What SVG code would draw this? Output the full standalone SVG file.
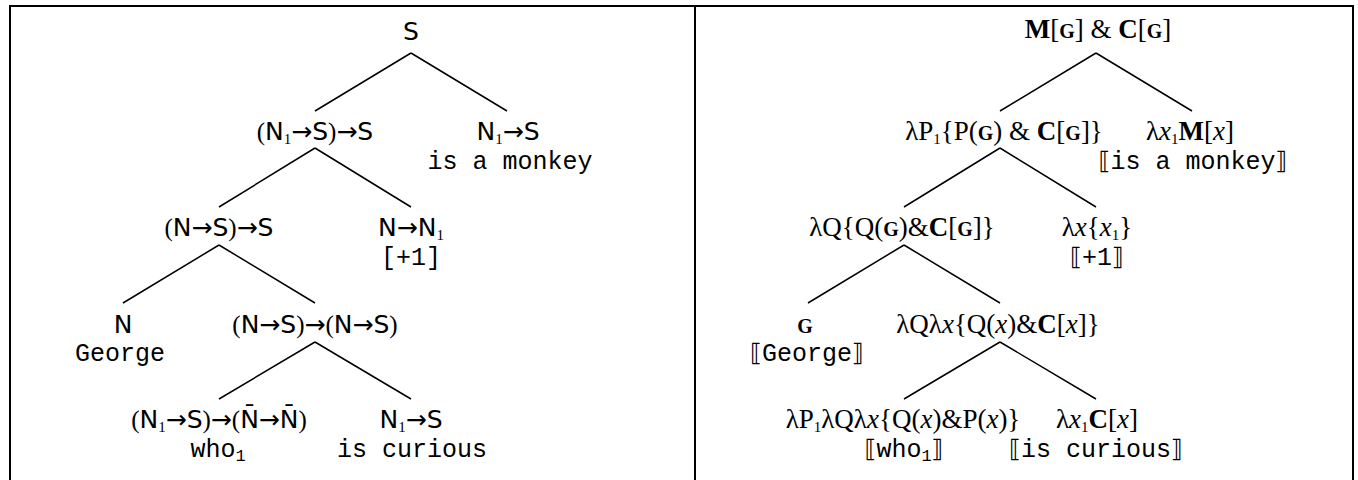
<svg xmlns="http://www.w3.org/2000/svg" width="1358" height="480" viewBox="0 0 1358 480">
<style>
.sans{font-family:"DejaVu Sans",sans-serif;font-size:25px;fill:#000}
.ser{font-family:"Liberation Serif",serif}
.mono{font-family:"Liberation Mono",monospace;font-size:25px;fill:#000}
.rt{font-family:"Liberation Serif",serif;font-size:27px;fill:#000}
.b{font-weight:bold}
.i{font-style:italic}
.sc{font-size:20px;font-weight:bold}
.sub{font-size:15px}
.msub{font-size:17px}
.wb{font-family:"DejaVu Sans",sans-serif;font-size:24px}
.edge{stroke:#000;stroke-width:1.5;fill:none}
.frame{stroke:#000;stroke-width:2;fill:none}
</style>
<rect width="1358" height="480" fill="#fff"/>
<path class="frame" d="M10,480 V6 H1353 V480 M695,6 V480"/>
<g id="connectors">
<path class="edge" d="M411,53 L315,111 M411,53 L507,111 M315,148 L219,207 M315,148 L411,207 M219,245 L123,303 M219,245 L315,303 M315,342 L219,399 M315,342 L411,399"/>
<path class="edge" d="M1096,53 L1000,111 M1096,53 L1192,111 M1000,148 L904,207 M1000,148 L1096,207 M904,245 L808,303 M904,245 L1000,303 M1000,342 L904,399 M1000,342 L1096,399"/>
</g>
<g id="L-root"><text class="sans" x="411" y="40" text-anchor="middle">S</text></g>
<g id="L-n2a"><text class="sans" x="315" y="140" text-anchor="middle"><tspan class="ser">(</tspan>N<tspan class="ser sub" dy="4">1</tspan><tspan dy="-4">→S</tspan><tspan class="ser">)</tspan>→S</text></g>
<g id="L-n2b"><text class="sans" x="508" y="140" text-anchor="middle">N<tspan class="ser sub" dy="4">1</tspan><tspan dy="-4">→S</tspan></text>
<text class="mono" x="510" y="169" text-anchor="middle">is a monkey</text></g>
<g id="L-n3a"><text class="sans" x="219" y="236" text-anchor="middle"><tspan class="ser">(</tspan>N→S<tspan class="ser">)</tspan>→S</text></g>
<g id="L-n3b"><text class="sans" x="411" y="236" text-anchor="middle">N→N<tspan class="ser sub" dy="4">1</tspan></text>
<text class="mono" x="411" y="265" text-anchor="middle">[+1]</text></g>
<g id="L-n4a"><text class="sans" x="123" y="333" text-anchor="middle">N</text>
<text class="mono" x="120" y="361" text-anchor="middle">George</text></g>
<g id="L-n4b"><text class="sans" x="315" y="333" text-anchor="middle"><tspan class="ser">(</tspan>N→S<tspan class="ser">)</tspan>→<tspan class="ser">(</tspan>N→S<tspan class="ser">)</tspan></text></g>
<g id="L-n5a"><text class="sans" x="219" y="428" text-anchor="middle"><tspan class="ser">(</tspan>N<tspan class="ser sub" dy="4">1</tspan><tspan dy="-4">→S</tspan><tspan class="ser">)</tspan>→<tspan class="ser">(</tspan>N̄→N̄<tspan class="ser">)</tspan></text>
<text class="mono" x="218" y="457" text-anchor="middle">who<tspan class="msub" dy="4">1</tspan></text></g>
<g id="L-n5b"><text class="sans" x="411" y="428" text-anchor="middle">N<tspan class="ser sub" dy="4">1</tspan><tspan dy="-4">→S</tspan></text>
<text class="mono" x="412" y="457" text-anchor="middle">is curious</text></g>

<g id="R-root"><text class="rt" x="1098" y="38" text-anchor="middle" font-size="25"><tspan class="b">M</tspan>[<tspan class="sc" font-size="19">G</tspan>] &amp; <tspan class="b">C</tspan>[<tspan class="sc" font-size="19">G</tspan>]</text></g>
<g id="R-n2a"><text class="rt" x="1004" y="140" text-anchor="middle">λP<tspan class="sub" dy="4">1</tspan><tspan dy="-4">{P(</tspan><tspan class="sc">G</tspan>) &amp; <tspan class="b">C</tspan>[<tspan class="sc">G</tspan>]}</text></g>
<g id="R-n2b"><text class="rt" x="1190" y="140" text-anchor="middle">λ<tspan class="i">x</tspan><tspan class="sub" dy="4">1</tspan><tspan class="b" dy="-4">M</tspan>[<tspan class="i">x</tspan>]</text>
<text class="mono" x="1193" y="169" text-anchor="middle"><tspan class="wb">⟦</tspan>is a monkey<tspan class="wb">⟧</tspan></text></g>
<g id="R-n3a"><text class="rt" x="902" y="236" text-anchor="middle">λQ{Q(<tspan class="sc">G</tspan>)&amp;<tspan class="b">C</tspan>[<tspan class="sc">G</tspan>]}</text></g>
<g id="R-n3b"><text class="rt" x="1097" y="236" text-anchor="middle">λ<tspan class="i">x</tspan>{<tspan class="i">x</tspan><tspan class="sub" dy="4">1</tspan><tspan dy="-4">}</tspan></text>
<text class="mono" x="1097" y="265" text-anchor="middle"><tspan class="wb">⟦</tspan>+1<tspan class="wb">⟧</tspan></text></g>
<g id="R-n4a"><text class="rt sc" x="805" y="333" text-anchor="middle">G</text>
<text class="mono" x="807" y="361" text-anchor="middle"><tspan class="wb">⟦</tspan>George<tspan class="wb">⟧</tspan></text></g>
<g id="R-n4b"><text class="rt" x="998" y="333" text-anchor="middle">λQλ<tspan class="i">x</tspan>{Q(<tspan class="i">x</tspan>)&amp;<tspan class="b">C</tspan>[<tspan class="i">x</tspan>]}</text></g>
<g id="R-n5a"><text class="rt" x="903" y="428" text-anchor="middle">λP<tspan class="sub" dy="4">1</tspan><tspan dy="-4">λQλ</tspan><tspan class="i">x</tspan>{Q(<tspan class="i">x</tspan>)&amp;P(<tspan class="i">x</tspan>)}</text>
<text class="mono" x="904" y="457" text-anchor="middle"><tspan class="wb">⟦</tspan>who<tspan class="msub" dy="4">1</tspan><tspan class="wb" dy="-4">⟧</tspan></text></g>
<g id="R-n5b"><text class="rt" x="1097" y="428" text-anchor="middle">λ<tspan class="i">x</tspan><tspan class="sub" dy="4">1</tspan><tspan class="b" dy="-4">C</tspan>[<tspan class="i">x</tspan>]</text>
<text class="mono" x="1096" y="457" text-anchor="middle"><tspan class="wb">⟦</tspan>is curious<tspan class="wb">⟧</tspan></text></g>
</svg>
